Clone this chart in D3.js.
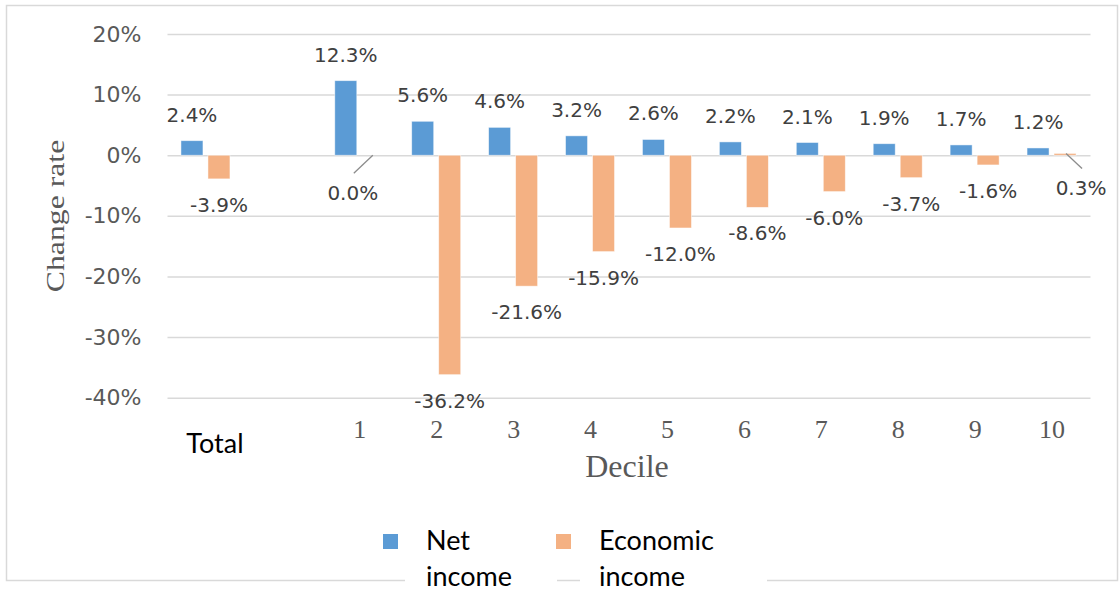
<!DOCTYPE html>
<html>
<head>
<meta charset="utf-8">
<script src="https://cdn.jsdelivr.net/npm/d3@7"></script>
<style>
  html, body { margin: 0; padding: 0; background: #fff; }
  svg { display: block; }
</style>
</head>
<body>
<svg id="chart"></svg>
<script>
// categories (blank slot between Total and the deciles)
var categories = ["Total", "", "1", "2", "3", "4", "5", "6", "7", "8", "9", "10"]
var netIncome = [2.4, null, 12.3, 5.6, 4.6, 3.2, 2.6, 2.2, 2.1, 1.9, 1.7, 1.2]
var economicIncome = [-3.9, null, 0.0, -36.2, -21.6, -15.9, -12.0, -8.6, -6.0, -3.7, -1.6, 0.3]
var seriesNames = ["Net income", "Economic income"]
var yTicks = [-40, -30, -20, -10, 0, 10, 20]

var width = 1119
var height = 595
var colors = ["#5B9BD5", "#F4B183"]

const svg = d3.select("#chart")
  .attr("width", width)
  .attr("height", height)

// outer frame
svg.append("rect")
  .attr("x", 6.5).attr("y", 5.5)
  .attr("width", 1111).attr("height", 575)
  .attr("fill", "none")
  .attr("stroke", "#d9d9d9")
  .attr("stroke-width", 1.5)

var x = d3.scaleBand()
  .domain(categories)
  .range([167.5, 1090.5])

var y = d3.scaleLinear()
  .domain([-40, 20])
  .range([397.7, 34])

// gridlines + y tick labels
svg.append("g")
  .attr("transform", "translate(167.5,0)")
  .call(d3.axisLeft(y).tickValues(yTicks).tickSize(-923).tickPadding(26).tickFormat(d => d + "%"))
  .call(g => g.select(".domain").remove())
  .call(g => g.selectAll("line").attr("stroke", "#d9d9d9").attr("stroke-width", 1.5))
  .call(g => g.selectAll("text")
    .attr("fill", "#595959")
    .style("font-family", "DejaVu Sans")
    .style("font-size", "22px"))

// x tick labels
svg.append("g")
  .call(d3.axisBottom(x).tickSize(0).tickFormat(d => d))
  .call(g => g.select(".domain").remove())
  .call(g => g.selectAll("text")
    .attr("y", 438).attr("dy", "0")
    .attr("fill", "#595959")
    .style("font-family", "Liberation Serif")
    .style("font-size", "26px"))
  .call(g => g.selectAll(".tick")
    .filter(d => d == "Total")
    .select("text")
    .attr("x", 9).attr("y", 453)
    .attr("fill", "#000")
    .style("font-family", "Lato")
    .style("font-size", "27px"))

// bars
var barW = 22
var offsets = [-25, 2]
var seriesData = [netIncome, economicIncome]

// hand placed labels (leader lines) for the tiny bars
var labelNudge = {
  "1": { dx: -20, dy: 45, leader: [0, 0, -19, 18] },
  "10": { dx: 16, dy: 40, leader: [1, 0, 17, 15] }
}

seriesData.forEach((vals, s) => {
  var rows = categories.map((c, i) => ({ cat: c, v: vals[i] })).filter(d => d.v != null)

  svg.append("g")
    .selectAll("rect")
    .data(rows)
    .join("rect")
      .attr("x", d => x(d.cat) + x.bandwidth() / 2 + offsets[s])
      .attr("y", d => y(Math.max(0, d.v)))
      .attr("width", barW)
      .attr("height", d => Math.abs(y(d.v) - y(0)))
      .attr("fill", colors[s])
      .attr("stroke", "#fff")
      .attr("stroke-opacity", 0.6)
      .attr("stroke-width", 0.8)

  var labels = svg.append("g")
  rows.forEach(d => {
    var cx = x(d.cat) + x.bandwidth() / 2 + offsets[s] + barW / 2
    var ly, lx = cx
    if (s == 1 && labelNudge[d.cat]) {
      var n = labelNudge[d.cat]
      var y0 = y(d.v)
      labels.append("line")
        .attr("x1", cx + n.leader[0]).attr("y1", y0 + n.leader[1])
        .attr("x2", cx + n.leader[2]).attr("y2", y0 + n.leader[3])
        .attr("stroke", "#8c8c8c").attr("stroke-width", 1.3)
      lx = cx + n.dx
      ly = y(0) + n.dy
    } else if (d.v >= 0) {
      ly = y(d.v) - 19
    } else {
      ly = y(d.v) + 33
    }
    labels.append("text")
      .attr("x", lx).attr("y", ly)
      .attr("text-anchor", "middle")
      .attr("fill", "#404040")
      .style("font-family", "DejaVu Sans")
      .style("font-size", "20px")
      .text(d.v.toFixed(1) + "%")
  })
})

// axis titles
svg.append("text")
  .attr("transform", "translate(64,216) rotate(-90) scale(1.27,1)")
  .attr("text-anchor", "middle")
  .attr("fill", "#595959")
  .style("font-family", "Liberation Serif")
  .style("font-size", "25px")
  .text("Change rate")

svg.append("text")
  .attr("x", 627).attr("y", 477)
  .attr("text-anchor", "middle")
  .attr("fill", "#595959")
  .style("font-family", "Liberation Serif")
  .style("font-size", "32px")
  .text("Decile")

// legend
var legendX = [383, 556]
var legendBox = [[405, 557], [580, 767]]
seriesNames.forEach((name, i) => {
  svg.append("rect")
    .attr("x", legendBox[i][0]).attr("y", 572)
    .attr("width", legendBox[i][1] - legendBox[i][0]).attr("height", 20)
    .attr("fill", "#fff")
  svg.append("rect")
    .attr("x", legendX[i]).attr("y", 534)
    .attr("width", 15).attr("height", 15)
    .attr("fill", colors[i])
  var words = name.split(" ")
  var t = svg.append("text")
    .attr("fill", "#000")
    .style("font-family", "Lato")
    .style("font-size", "27px")
  t.append("tspan").attr("x", legendX[i] + 43).attr("y", 550).text(words[0])
  t.append("tspan").attr("x", legendX[i] + 43).attr("y", 586).text(words[1])
})
</script>
</body>
</html>
